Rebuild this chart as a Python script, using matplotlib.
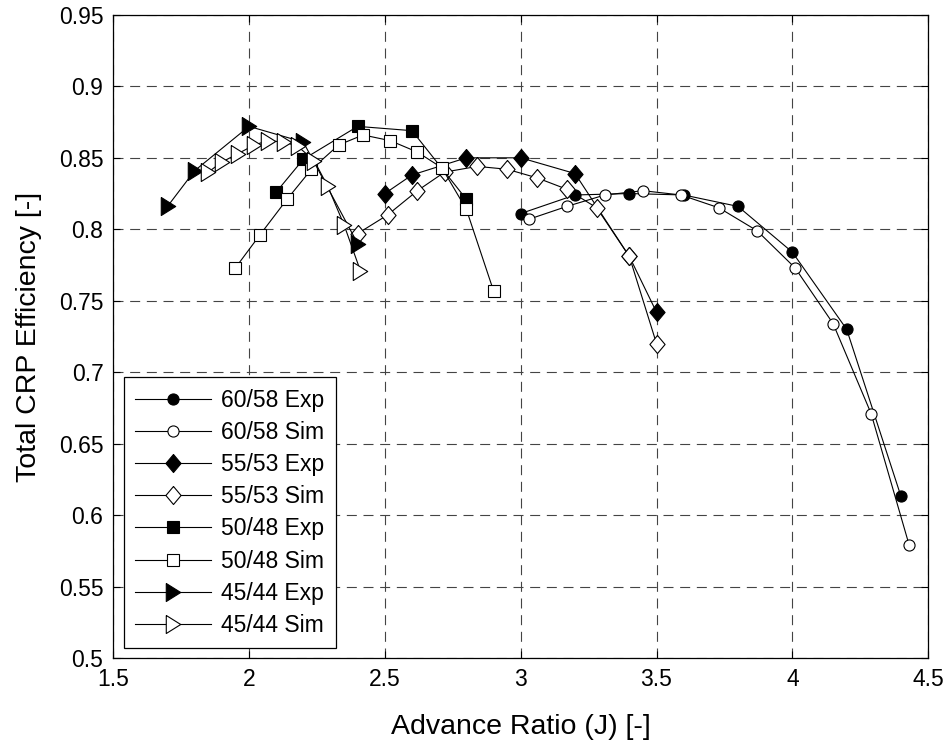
"""Total CRP efficiency vs advance ratio, experiment and simulation."""

import matplotlib
matplotlib.use("Agg")
import matplotlib.pyplot as plt
import numpy as np

plt.rcParams["font.family"] = ["Liberation Sans", "DejaVu Sans"]

# 60/58
j_6058_exp = [3.0, 3.2, 3.4, 3.6, 3.8, 4.0, 4.2, 4.4]
eta_6058_exp = [0.811, 0.824, 0.825, 0.824, 0.816, 0.784, 0.730, 0.613]
j_6058_sim = [3.03, 3.17, 3.31, 3.45, 3.59, 3.73, 3.87, 4.01, 4.15, 4.29, 4.43]
eta_6058_sim = [0.807, 0.816, 0.824, 0.827, 0.824, 0.815, 0.799, 0.773, 0.734, 0.671, 0.579]

# 55/53
j_5553_exp = [2.5, 2.6, 2.8, 3.0, 3.2, 3.4, 3.5]
eta_5553_exp = [0.825, 0.838, 0.850, 0.850, 0.839, 0.781, 0.742]
j_5553_sim = [2.40, 2.51, 2.62, 2.72, 2.84, 2.95, 3.06, 3.17, 3.28, 3.40, 3.50]
eta_5553_sim = [0.797, 0.810, 0.827, 0.840, 0.844, 0.842, 0.836, 0.828, 0.815, 0.781, 0.720]

# 50/48
j_5048_exp = [2.1, 2.2, 2.4, 2.6, 2.8]
eta_5048_exp = [0.826, 0.849, 0.872, 0.869, 0.821]
j_5048_sim = [1.95, 2.04, 2.14, 2.23, 2.33, 2.42, 2.52, 2.62, 2.71, 2.80, 2.90]
eta_5048_sim = [0.773, 0.796, 0.821, 0.842, 0.859, 0.866, 0.862, 0.854, 0.843, 0.814, 0.757]

# 45/44
j_4544_exp = [1.7, 1.8, 2.0, 2.2, 2.4]
eta_4544_exp = [0.816, 0.841, 0.872, 0.861, 0.790]
j_4544_sim = [1.85, 1.90, 1.96, 2.02, 2.07, 2.13, 2.18, 2.24, 2.29, 2.35, 2.41]
eta_4544_sim = [0.840, 0.847, 0.853, 0.859, 0.862, 0.861, 0.858, 0.848, 0.830, 0.803, 0.771]

# MATLAB-like taller-than-wide diamond and triangle markers
DIAMOND = [(0, 1), (0.84, 0), (0, -1), (-0.84, 0), (0, 1)]
TRIANGLE = [(-0.8, 1), (0.8, 0), (-0.8, -1), (-0.8, 1)]

series = [
    ("60/58 Exp", j_6058_exp, eta_6058_exp, "o", 8, "k"),
    ("60/58 Sim", j_6058_sim, eta_6058_sim, "o", 8, "w"),
    ("55/53 Exp", j_5553_exp, eta_5553_exp, DIAMOND, 13, "k"),
    ("55/53 Sim", j_5553_sim, eta_5553_sim, DIAMOND, 13, "w"),
    ("50/48 Exp", j_5048_exp, eta_5048_exp, "s", 8, "k"),
    ("50/48 Sim", j_5048_sim, eta_5048_sim, "s", 8.3, "w"),
    ("45/44 Exp", j_4544_exp, eta_4544_exp, TRIANGLE, 13, "k"),
    ("45/44 Sim", j_4544_sim, eta_4544_sim, TRIANGLE, 13, "w"),
]

fig = plt.figure(figsize=(9.51, 7.46), dpi=100)
ax = fig.add_axes([0.119, 0.118, 0.857, 0.862])

for label, x, y, marker, ms, face in series:
    ax.plot(x, y, color="k", linewidth=0.8, marker=marker, markersize=ms,
            markerfacecolor=face, markeredgecolor="k", markeredgewidth=0.8,
            label=label)

ax.set_xlim(1.5, 4.5)
ax.set_ylim(0.5, 0.95)
ax.set_xticks(np.arange(1.5, 4.51, 0.5))
ax.set_yticks(np.arange(0.5, 0.951, 0.05))
ax.set_xticklabels(["1.5", "2", "2.5", "3", "3.5", "4", "4.5"])
ax.set_yticklabels(["0.5", "0.55", "0.6", "0.65", "0.7", "0.75", "0.8",
                    "0.85", "0.9", "0.95"])

ax.grid(True, color="#444444", linestyle=(0, (9, 6)), linewidth=0.8)
ax.set_axisbelow(True)
ax.tick_params(direction="in", top=True, right=True, length=5, width=0.8,
               labelsize=16.5, pad=7)
for side in ax.spines.values():
    side.set_linewidth(0.9)

ax.set_xlabel("Advance Ratio (J) [-]", fontsize=20.5, labelpad=17)
ax.set_ylabel("Total CRP Efficiency [-]", fontsize=20.5, labelpad=12)

leg = ax.legend(loc="lower left", bbox_to_anchor=(0.013, 0.015),
                borderaxespad=0, fontsize=16.5, fancybox=False, framealpha=1,
                edgecolor="k", handlelength=3.3, handletextpad=0.45,
                labelspacing=0.4, borderpad=0.5)
leg.get_frame().set_linewidth(0.9)

fig.savefig("out.png", dpi=100)
